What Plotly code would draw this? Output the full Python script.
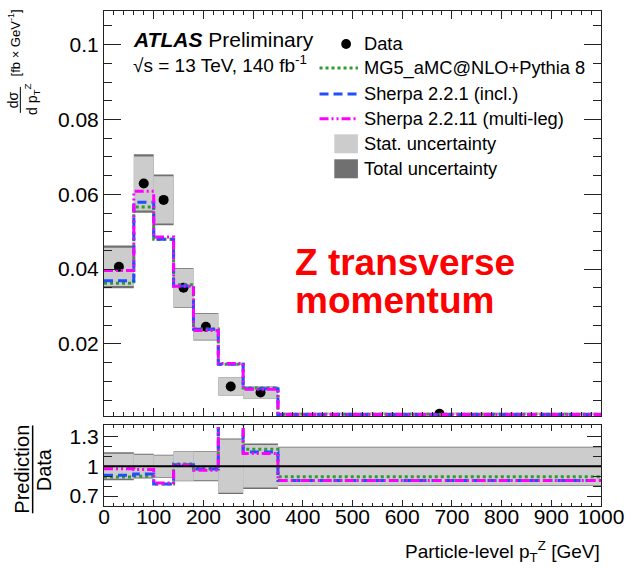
import plotly.graph_objects as go

# ---------------- data ----------------
edges = [0, 60, 100, 140, 180, 230, 280, 350, 1000]
data = [0.0406, 0.0629, 0.0585, 0.0350, 0.0246, 0.0086, 0.0070, 0.00133]
stat_err = [0.0051, 0.0072, 0.0063, 0.0051, 0.0035, 0.0023, 0.0015, 0.00025]
tot_err = [0.0057, 0.0078, 0.0068, 0.0053, 0.0037, 0.0024, 0.0016, 0.00026]
mg5 = [0.0362, 0.0566, 0.0480, 0.0358, 0.0240, 0.0146, 0.0082, 0.00119]
sherpa221 = [0.0369, 0.0579, 0.0480, 0.0355, 0.0239, 0.0146, 0.0080, 0.00114]
sherpa2211 = [0.0396, 0.0608, 0.0486, 0.0354, 0.0236, 0.0148, 0.0079, 0.00114]
x_ticks = [0, 100, 200, 300, 400, 500, 600, 700, 800, 900, 1000]
ratio_ticks = [0.7, 1.0, 1.3]
ratio_ticktext = ["0.7", "1", "1.3"]

centers = [(a + b) / 2 for a, b in zip(edges[:-1], edges[1:])]
widths = [b - a for a, b in zip(edges[:-1], edges[1:])]

FONT = "Liberation Sans, Arial, Helvetica, sans-serif"
W_PX, H_PX = 634, 569
L, R, T, B = 104, 609, 10, 505.7


def px(x):
    return (x - L) / (R - L)


def py(y):
    return (B - y) / (B - T)


main_dom = [py(415.7), 1.0]
ratio_dom = [0.0, py(425)]

GREEN = "#2f9a2f"
BLUE = "#1f4fff"
MAGENTA = "#ff00ff"
LIGHT = "#cccccc"
DARK = "#707070"

styles = [
    ("MG5_aMC@NLO+Pythia 8", mg5, GREEN, "3px,3px"),
    ("Sherpa 2.2.1 (incl.)", sherpa221, BLUE, "9px,5px"),
    ("Sherpa 2.2.11 (multi-leg)", sherpa2211, MAGENTA, "9px,3px,2px,3px,2px,3px"),
]

fig = go.Figure()

# uncertainty boxes (main)
fig.add_trace(go.Bar(x=centers, width=widths,
                     base=[d - e for d, e in zip(data, tot_err)],
                     y=[2 * e for e in tot_err],
                     marker=dict(color=DARK, line=dict(width=0)),
                     xaxis="x", yaxis="y", showlegend=False))
fig.add_trace(go.Bar(x=centers, width=widths,
                     base=[d - e for d, e in zip(data, stat_err)],
                     y=[2 * e for e in stat_err],
                     marker=dict(color=LIGHT, line=dict(width=0)),
                     xaxis="x", yaxis="y", showlegend=False))

# uncertainty bands (ratio)
fig.add_trace(go.Bar(x=centers, width=widths,
                     base=[1 - e / d for d, e in zip(data, tot_err)],
                     y=[2 * e / d for d, e in zip(data, tot_err)],
                     marker=dict(color=DARK, line=dict(width=0)),
                     xaxis="x2", yaxis="y2", showlegend=False))
fig.add_trace(go.Bar(x=centers, width=widths,
                     base=[1 - e / d for d, e in zip(data, stat_err)],
                     y=[2 * e / d for d, e in zip(data, stat_err)],
                     marker=dict(color=LIGHT, line=dict(width=0)),
                     xaxis="x2", yaxis="y2", showlegend=False))

# data points
fig.add_trace(go.Scatter(x=centers, y=data, mode="markers",
                         marker=dict(color="black", size=10),
                         xaxis="x", yaxis="y", showlegend=False))

# predictions
for name, vals, col, dash in styles:
    fig.add_trace(go.Scatter(x=edges, y=vals + [vals[-1]], mode="lines",
                             line=dict(color=col, width=3, dash=dash, shape="hv"),
                             xaxis="x", yaxis="y", showlegend=False))
    ratio = [p / d for p, d in zip(vals, data)]
    fig.add_trace(go.Scatter(x=edges, y=ratio + [ratio[-1]], mode="lines",
                             line=dict(color=col, width=3, dash=dash, shape="hv"),
                             xaxis="x2", yaxis="y2", showlegend=False))

axis_common = dict(showline=True, linecolor="#222", linewidth=1, mirror="allticks",
                   ticks="inside", tickcolor="#222", showgrid=False, zeroline=False,
                   tickfont=dict(family=FONT, size=21, color="black"))

fig.update_layout(
    width=W_PX, height=H_PX,
    margin=dict(l=L, r=W_PX - R, t=T, b=round(H_PX - B)),
    paper_bgcolor="white", plot_bgcolor="white",
    barmode="overlay", showlegend=False,
    font=dict(family=FONT, color="black"),
    xaxis=dict(axis_common, domain=[0, 1], anchor="y", range=[0, 1000],
               tickvals=x_ticks, showticklabels=False, ticklen=8,
               minor=dict(dtick=20, tick0=0, ticklen=4, ticks="inside", tickcolor="#222")),
    yaxis=dict(axis_common, domain=main_dom, anchor="x", range=[0.0007, 0.109],
               tick0=0, dtick=0.02, ticklen=17,
               minor=dict(dtick=0.005, tick0=0, ticklen=8, ticks="inside", tickcolor="#222")),
    xaxis2=dict(axis_common, domain=[0, 1], anchor="y2", range=[0, 1000],
                tickvals=x_ticks, ticklen=6, ticklabelstandoff=-8,
                minor=dict(dtick=20, tick0=0, ticklen=3, ticks="inside", tickcolor="#222")),
    yaxis2=dict(axis_common, domain=ratio_dom, anchor="x2", range=[0.6, 1.41],
                tickvals=ratio_ticks, ticktext=ratio_ticktext, ticklen=14,
                minor=dict(dtick=0.1, tick0=0, ticklen=8, ticks="inside", tickcolor="#222")),
)

shapes = []
# ratio reference line at 1
shapes.append(dict(type="line", xref="x2", yref="y2", x0=0, x1=1000, y0=1, y1=1,
                   line=dict(color="black", width=2)))

annotations = []


def txt(text, x, y, size, xanchor="left", angle=0, color="black"):
    annotations.append(dict(text=text, x=px(x), y=py(y), xref="paper", yref="paper",
                            xanchor=xanchor, yanchor="middle", showarrow=False,
                            textangle=angle,
                            font=dict(family=FONT, size=size, color=color)))


# ATLAS label
txt("<b><i>ATLAS</i></b> Preliminary", 131, 39, 21)
txt("\u221as = 13 TeV, 140 fb<sup>-1</sup>", 131, 63, 19)

# legend
rows = [43, 67, 93, 118, 143, 168]
legend_names = ["Data"] + [s[0] for s in styles] + ["Stat. uncertainty", "Total uncertainty"]
for name, yy in zip(legend_names, rows):
    txt(name, 366, yy, 18.3)
shapes.append(dict(type="circle", xref="paper", yref="paper",
                   x0=px(345), x1=px(355), y0=py(rows[0] + 5), y1=py(rows[0] - 5),
                   fillcolor="black", line=dict(width=0)))
for (name, vals, col, dash), yy in zip(styles, rows[1:4]):
    shapes.append(dict(type="line", xref="paper", yref="paper",
                       x0=px(323), x1=px(362), y0=py(yy), y1=py(yy),
                       line=dict(color=col, width=3, dash=dash)))
for col, yy in zip([LIGHT, DARK], rows[4:6]):
    shapes.append(dict(type="rect", xref="paper", yref="paper",
                       x0=px(338), x1=px(362), y0=py(yy + 9.5), y1=py(yy - 9.5),
                       fillcolor=col, line=dict(width=0)))

# red overlay text
txt("<b>Z transverse</b>", 296, 262, 37, color="#ff0000")
txt("<b>momentum</b>", 296, 300, 37, color="#ff0000")

# x title
txt("Particle-level p<sub>T</sub><sup>Z</sup> [GeV]", 610, 551, 19, xanchor="right")

# main y title (fraction)
txt("d\u03c3", 11, 99, 14, xanchor="center", angle=-90)
shapes.append(dict(type="line", xref="paper", yref="paper",
                   x0=px(19), x1=px(19), y0=py(86), y1=py(112),
                   line=dict(color="black", width=1)))
txt("d p<sub>T</sub><sup>Z</sup>", 31, 99, 14, xanchor="center", angle=-90)
txt("[fb \u00d7 GeV<sup>-1</sup>]", 13, 42, 13, xanchor="center", angle=-90)

# ratio y title (fraction)
txt("Prediction", 21, 469, 20, xanchor="center", angle=-90)
shapes.append(dict(type="line", xref="paper", yref="paper",
                   x0=px(31.5), x1=px(31.5), y0=py(425), y1=py(513),
                   line=dict(color="black", width=1.5)))
txt("Data", 43, 469, 20, xanchor="center", angle=-90)

fig.update_layout(shapes=shapes, annotations=annotations)
fig.write_html("out.html")
